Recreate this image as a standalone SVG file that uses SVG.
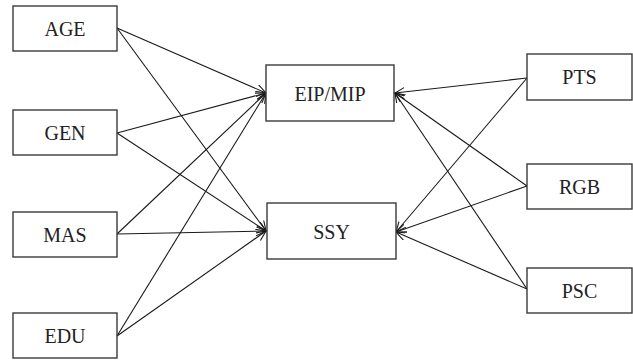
<svg xmlns="http://www.w3.org/2000/svg" width="633" height="360" viewBox="0 0 633 360">
<style>
.box{fill:#fff;stroke:#3a3a3a;stroke-width:1.4}
.lbl{font-size:20px;fill:#222;text-anchor:middle}
.edge{stroke:#1a1a1a;stroke-width:1.1;fill:none;marker-end:url(#arr)}
</style>
<defs>
<marker id="arr" markerUnits="userSpaceOnUse" markerWidth="12" markerHeight="10" refX="10" refY="4.5" orient="auto">
<path d="M0,0 L10,4.5 L0,9" fill="none" stroke="#1a1a1a" stroke-width="1.1"/>
</marker>
</defs>
<rect width="633" height="360" fill="#fff"/>
<g id="connectors">
<line class="edge" x1="117" y1="28" x2="266" y2="93"/>
<line class="edge" x1="117" y1="28" x2="266" y2="231"/>
<line class="edge" x1="117" y1="133" x2="266" y2="93"/>
<line class="edge" x1="117" y1="133" x2="266" y2="231"/>
<line class="edge" x1="117" y1="234" x2="266" y2="93"/>
<line class="edge" x1="117" y1="234" x2="266" y2="231"/>
<line class="edge" x1="117" y1="336" x2="266" y2="93"/>
<line class="edge" x1="117" y1="336" x2="266" y2="231"/>
<line class="edge" x1="527" y1="78" x2="395" y2="93"/>
<line class="edge" x1="527" y1="78" x2="396" y2="232"/>
<line class="edge" x1="527" y1="186" x2="395" y2="93"/>
<line class="edge" x1="527" y1="186" x2="396" y2="232"/>
<line class="edge" x1="527" y1="289" x2="395" y2="93"/>
<line class="edge" x1="527" y1="289" x2="396" y2="232"/>
</g>
<g id="AGE"><rect class="box" x="13" y="6" width="104" height="45"/><text class="lbl" font-family="'Liberation Serif', 'DejaVu Serif', serif" x="65" y="35.5">AGE</text></g>
<g id="GEN"><rect class="box" x="13" y="110" width="104" height="45"/><text class="lbl" font-family="'Liberation Serif', 'DejaVu Serif', serif" x="65" y="139.5">GEN</text></g>
<g id="MAS"><rect class="box" x="13" y="212" width="104" height="45"/><text class="lbl" font-family="'Liberation Serif', 'DejaVu Serif', serif" x="65" y="241.5">MAS</text></g>
<g id="EDU"><rect class="box" x="13" y="313" width="104" height="45"/><text class="lbl" font-family="'Liberation Serif', 'DejaVu Serif', serif" x="65" y="342.5">EDU</text></g>
<g id="EIPMIP"><rect class="box" x="266" y="65" width="128" height="56"/><text class="lbl" font-family="'Liberation Serif', 'DejaVu Serif', serif" x="330" y="101">EIP/MIP</text></g>
<g id="SSY"><rect class="box" x="267" y="203" width="129" height="56"/><text class="lbl" font-family="'Liberation Serif', 'DejaVu Serif', serif" x="331.5" y="239">SSY</text></g>
<g id="PTS"><rect class="box" x="527" y="54" width="105" height="46"/><text class="lbl" font-family="'Liberation Serif', 'DejaVu Serif', serif" x="579.5" y="84">PTS</text></g>
<g id="RGB"><rect class="box" x="527" y="164" width="105" height="45"/><text class="lbl" font-family="'Liberation Serif', 'DejaVu Serif', serif" x="579.5" y="193.5">RGB</text></g>
<g id="PSC"><rect class="box" x="527" y="268" width="105" height="45"/><text class="lbl" font-family="'Liberation Serif', 'DejaVu Serif', serif" x="579.5" y="297.5">PSC</text></g>
</svg>
